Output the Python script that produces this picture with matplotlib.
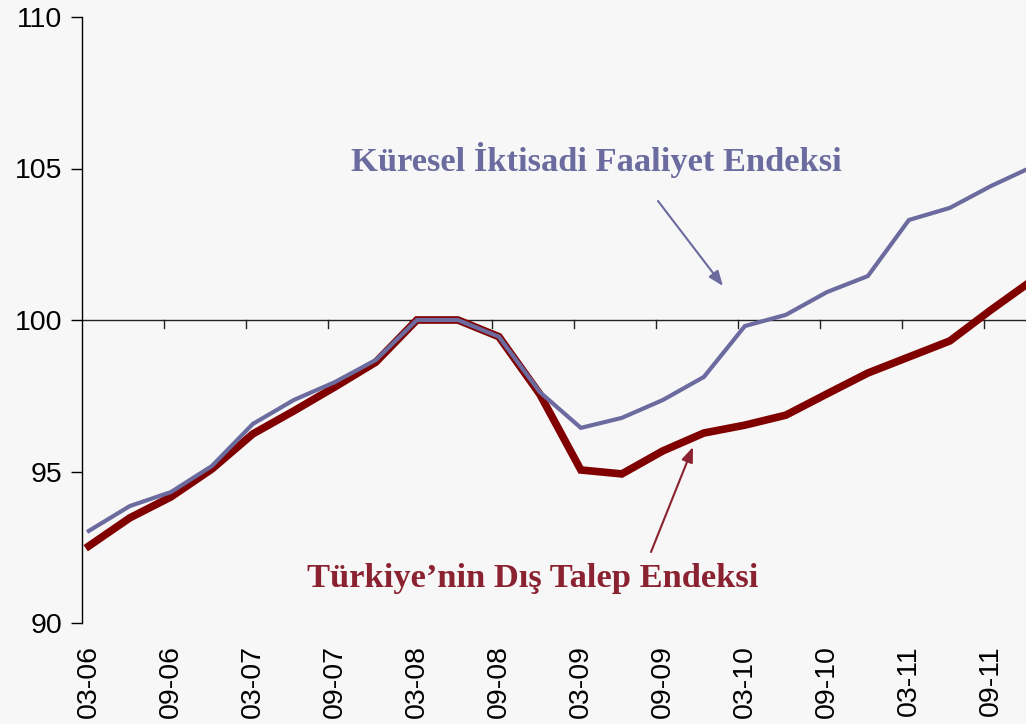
import matplotlib
matplotlib.use("Agg")
import matplotlib.pyplot as plt
import numpy as np

# Quarterly observations (month index from 03-2006)
quarters = ["03-06","06-06","09-06","12-06","03-07","06-07","09-07","12-07",
            "03-08","06-08","09-08","12-08","03-09","06-09","09-09","12-09",
            "03-10","06-10","09-10","12-10","03-11","06-11","09-11","12-11"]
kuresel = [93.04, 93.86, 94.32, 95.18, 96.57, 97.36, 97.95, 98.68,
           100.0, 100.0, 99.45, 97.62, 96.44, 96.77, 97.36, 98.12,
           99.80, 100.17, 100.92, 101.45, 103.30, 103.70, 104.42, 105.05]
turkiye = [92.54, 93.47, 94.16, 95.08, 96.24, 97.00, 97.79, 98.61,
           100.0, 100.0, 99.45, 97.55, 95.05, 94.92, 95.68, 96.27,
           96.53, 96.86, 97.56, 98.25, 98.78, 99.31, 100.33, 101.30]
tick_labels = ["03-06","09-06","03-07","09-07","03-08","09-08","03-09",
               "09-09","03-10","09-10","03-11","09-11"]
yticks = [90, 95, 100, 105, 110]

BG = "#f7f7f7"
BLUE = "#6b6b9f"
RED = "#800000"
RED_TXT = "#8b2232"

fig = plt.figure(figsize=(10.26, 7.24), dpi=100, facecolor=BG)
ax = fig.add_axes([82/1026, 1-623/724, (1026-82)/1026, (623-17)/724])
ax.set_facecolor(BG)

x = np.arange(len(quarters)) * 3 + 0.5
ax.plot(x, turkiye, color=RED, lw=5.5, solid_joinstyle="miter", zorder=3)
ax.plot(x, kuresel, color=BLUE, lw=3.0, solid_joinstyle="miter", zorder=4)

ax.set_xlim(0, 69.07)
ax.set_ylim(90, 110)

for s in ["top", "right", "bottom"]:
    ax.spines[s].set_visible(False)
ax.spines["left"].set_linewidth(1.0)
ax.spines["left"].set_color("black")

# horizontal category axis at 100
ax.axhline(100, color="#222222", lw=1.0, zorder=2)
tick_x = np.arange(len(tick_labels)) * 6
for tx in tick_x[1:]:
    ax.plot([tx, tx], [100, 100 - 8/30.3], color="#222222", lw=1.0, zorder=2,
            clip_on=False)

ax.set_yticks(yticks)
ax.set_yticklabels([str(v) for v in yticks], fontsize=20.5, family="Liberation Sans")
ax.tick_params(axis="y", direction="out", length=8, width=1.0, pad=6)

ax.set_xticks(tick_x + 0.5)
ax.set_xticklabels(tick_labels, rotation=90, fontsize=20.5, family="Liberation Sans")
ax.tick_params(axis="x", length=0, pad=16)

def fx(px):
    return (px - 82) / ((1026 - 82) / 69.07)

def fy(py):
    return 100 + (320 - py) / 30.3

ax.text(fx(596), fy(160), "Küresel İktisadi Faaliyet Endeksi", color=BLUE,
        fontsize=24.8, fontweight="bold", family="Liberation Serif",
        ha="center", va="center")
ax.text(fx(533), fy(578), "Türkiye\u2019nin Dış Talep Endeksi", color=RED_TXT,
        fontsize=24.8, fontweight="bold", family="Liberation Serif",
        ha="center", va="center")

ax.annotate("", xy=(fx(723), fy(286)), xytext=(fx(658), fy(201)),
            arrowprops=dict(arrowstyle="-|>,head_length=0.9,head_width=0.35",
                            color=BLUE, lw=1.5, shrinkA=0, shrinkB=0))
ax.annotate("", xy=(fx(693), fy(447)), xytext=(fx(651), fy(552)),
            arrowprops=dict(arrowstyle="-|>,head_length=0.9,head_width=0.35",
                            color=RED_TXT, lw=1.5, shrinkA=0, shrinkB=0))

fig.savefig("out.png", dpi=100, facecolor=BG)
